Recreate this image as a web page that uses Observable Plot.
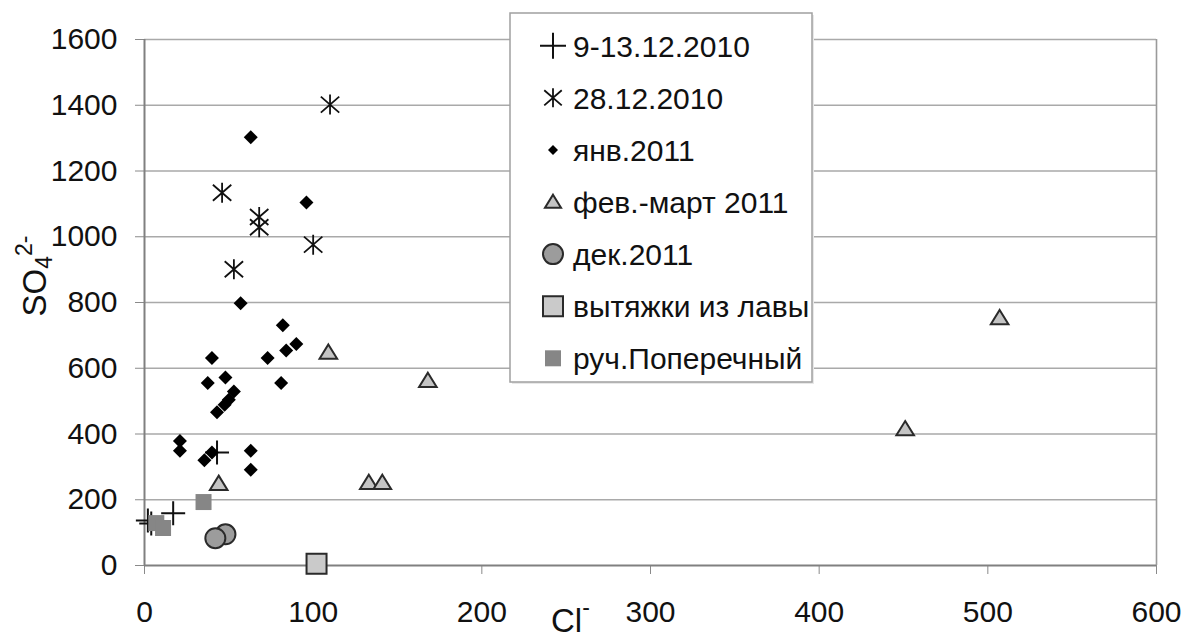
<!DOCTYPE html>
<html><head><meta charset="utf-8">
<script src="https://cdn.jsdelivr.net/npm/d3@7"></script>
<script src="https://cdn.jsdelivr.net/npm/@observablehq/plot@0.6"></script>
<style>
body{margin:0;background:#fff}
#chart{position:relative;width:1186px;height:637px}
</style>
</head><body><div id="chart"></div>
<script>
// ---- data ----
const seriesNames = ["9-13.12.2010","28.12.2010","янв.2011","фев.-март 2011","дек.2011","вытяжки из лавы","руч.Поперечный"];
const dec2010Cl  = [2, 4, 17, 43];
const dec2010SO4 = [137, 128, 159, 344];
const dec28Cl  = [110, 46, 68, 68, 100, 53];
const dec28SO4 = [1402, 1134, 1060, 1029, 976, 901];
const jan2011Cl  = [63, 96, 57, 82, 90, 84, 73, 40, 48, 37.5, 81, 53, 50, 47.5, 43, 21, 21, 40, 35.5, 63, 63];
const jan2011SO4 = [1303, 1104, 798, 731, 674, 654, 631, 631, 572, 555, 555, 529, 504, 489, 466, 379, 349, 344, 320, 349, 291];
const febMar2011Cl  = [44, 109, 168, 133, 141, 451, 507];
const febMar2011SO4 = [249, 648, 562, 252, 252, 415, 753];
const dec2011Cl  = [48, 42];
const dec2011SO4 = [95, 83];
const lavaCl  = [102];
const lavaSO4 = [5];
const streamCl  = [7, 11, 35];
const streamSO4 = [129, 114, 193];
const xTicks = [0, 100, 200, 300, 400, 500, 600];
const yTicks = [0, 200, 400, 600, 800, 1000, 1200, 1400, 1600];

// ---- symbols ----
const R = s => Math.sqrt(s / Math.PI);
const sym = {
  plus: {draw(c, s){const r=R(s); c.moveTo(-r,0); c.lineTo(r,0); c.moveTo(0,-r); c.lineTo(0,r);}},
  asterisk: {draw(c, s){const r=R(s); c.moveTo(0,-r); c.lineTo(0,r);
    c.moveTo(-r*0.92,-r*0.8); c.lineTo(r*0.92,r*0.8); c.moveTo(-r*0.92,r*0.8); c.lineTo(r*0.92,-r*0.8);}},
  diamond: {draw(c, s){const r=R(s); c.moveTo(0,-r); c.lineTo(r,0); c.lineTo(0,r); c.lineTo(-r,0); c.closePath();}},
  triangle: {draw(c, s){const r=R(s); c.moveTo(0,-r); c.lineTo(r*1.1,r*0.78); c.lineTo(-r*1.1,r*0.78); c.closePath();}},
  circle: {draw(c, s){const r=R(s); c.moveTo(r,0); c.arc(0,0,r,0,2*Math.PI);}},
  square: {draw(c, s){const r=R(s); c.rect(-r,-r,2*r,2*r);}}
};
const styles = [
  {symbol: sym.plus, r: 12, fill: "none", stroke: "#111", strokeWidth: 2, lr: 13},
  {symbol: sym.asterisk, r: 10, fill: "none", stroke: "#111", strokeWidth: 1.8, lr: 9.5},
  {symbol: sym.diamond, r: 7, fill: "#000", stroke: "none", strokeWidth: 0, lr: 5},
  {symbol: sym.triangle, r: 8, fill: "#c4c4c4", stroke: "#2a2a2a", strokeWidth: 2, lr: 7.3},
  {symbol: sym.circle, r: 10, fill: "#9c9c9c", stroke: "#2a2a2a", strokeWidth: 2, lr: 10},
  {symbol: sym.square, r: 10, fill: "#cacaca", stroke: "#2a2a2a", strokeWidth: 2, lr: 10},
  {symbol: sym.square, r: 8, fill: "#868686", stroke: "none", strokeWidth: 0, lr: 8}
];
const pts = (xs, ys) => xs.map((x, i) => ({x, y: ys[i]}));
const series = [
  pts(dec2010Cl, dec2010SO4),
  pts(dec28Cl, dec28SO4),
  pts(jan2011Cl, jan2011SO4),
  pts(febMar2011Cl, febMar2011SO4),
  pts(dec2011Cl, dec2011SO4),
  pts(lavaCl, lavaSO4),
  pts(streamCl, streamSO4)
];

const font = "'Liberation Sans', Arial, Helvetica, sans-serif";
const chart = Plot.plot({
  width: 1186, height: 637,
  marginLeft: 144, marginRight: 30, marginTop: 39, marginBottom: 72,
  style: {fontFamily: font, fontSize: "30px", color: "#111", background: "#fff", overflow: "visible"},
  x: {domain: [0, 600]},
  y: {domain: [0, 1600]},
  marks: [
    Plot.ruleY(yTicks.filter(v => v > 0), {stroke: "#a9a9a9", strokeWidth: 1.6}),
    Plot.ruleX([600], {stroke: "#9a9a9a", strokeWidth: 1.6}),
    Plot.axisX({ticks: xTicks, tickSize: 9, tickPadding: 26, stroke: "#8a8a8a", tickFormat: d => String(d), label: null}),
    Plot.axisY({ticks: yTicks, tickSize: 9, tickPadding: 18, stroke: "#8a8a8a", tickFormat: d => String(d), label: null}),
    Plot.ruleX([0], {stroke: "#808080", strokeWidth: 2}),
    Plot.ruleY([0], {stroke: "#808080", strokeWidth: 2}),
    ...series.map((d, i) => Plot.dot(d, {
      x: "x", y: "y", symbol: styles[i].symbol, r: styles[i].r,
      fill: styles[i].fill, stroke: styles[i].stroke, strokeWidth: styles[i].strokeWidth
    }))
  ]
});
document.getElementById("chart").appendChild(chart);

const svg = d3.select(chart);
// axis titles
const yt = svg.append("text").attr("transform", "translate(46,276) rotate(-90)")
  .attr("text-anchor", "middle").attr("font-family", font).attr("font-size", 33).attr("fill", "#111");
yt.append("tspan").text("SO");
yt.append("tspan").attr("font-size", 23).attr("dy", 6).text("4");
yt.append("tspan").attr("font-size", 23).attr("dy", -20).text("2-");
const xt = svg.append("text").attr("x", 551).attr("y", 632).attr("text-anchor", "start")
  .attr("font-family", font).attr("font-size", 33).attr("fill", "#111");
xt.append("tspan").text("Cl");
xt.append("tspan").attr("font-size", 23).attr("dy", -17).text("-");

// legend box
const lg = svg.append("g").attr("transform", "translate(510,13)");
lg.append("rect").attr("x", 2).attr("y", 2).attr("width", 302).attr("height", 369).attr("fill", "#e8e8e8");
lg.append("rect").attr("width", 302).attr("height", 369).attr("fill", "#fff").attr("stroke", "#a0a0a0").attr("stroke-width", 1.5);
seriesNames.forEach((name, i) => {
  const yb = 43.7 + i * 52.1;
  const st = styles[i];
  lg.append("path").attr("transform", `translate(43,${yb - 11})`)
    .attr("d", d3.symbol().type(st.symbol).size(Math.PI * st.lr * st.lr)())
    .attr("fill", st.fill).attr("stroke", st.stroke).attr("stroke-width", st.strokeWidth || 0);
  lg.append("text").attr("x", 63).attr("y", yb).attr("text-anchor", "start")
    .attr("font-family", font).attr("font-size", 30).attr("fill", "#111").text(name);
});
</script>
</body></html>
